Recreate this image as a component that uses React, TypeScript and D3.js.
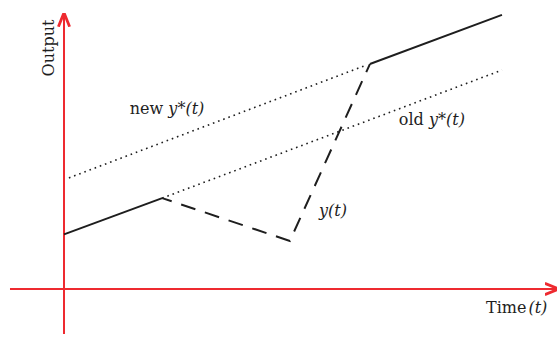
import * as d3 from "d3"

// actual output path: solid, then the dip after the shift (dashed), then solid again
const solidBefore = [[0, 20], [20, 33.3]]
const dip = [[20, 33.3], [46, 17.6], [62.3, 82.4]]
const solidAfter = [[62.3, 82.4], [89.2, 100.4]]

// target paths (dotted)
const newTarget = [[1, 40.7], [61.7, 82.1]]
const oldTarget = [[20, 33.3], [89.2, 80.2]]

// axis extents, in data units
const xExtent = [-11, 100.5]
const yExtent = [-16.5, 100.7]

const labels = [
  { pre: "new ", t: [13.4, 64] },
  { pre: "old ", t: [68.2, 60] },
]

export default function App() {
  const width = 557
  const height = 338
  const red = "#ee2a30"
  const ink = "#1e1e1e"
  const font = "'DejaVu Serif', serif"

  const x = d3.scaleLinear().domain([0, 100]).range([64, 555])
  const y = d3.scaleLinear().domain([0, 100]).range([289, 16])

  const line = d3.line<number[]>()
    .x(d => x(d[0]))
    .y(d => y(d[1]))

  return (
    <svg width={width} height={height} style={{ position: "absolute", left: 0, top: 0 }}>
      <defs>
        <marker id="arr" viewBox="0 0 10 10" refX="9" refY="5" markerWidth="7" markerHeight="7" orient="auto">
          <path d="M0,1 L10,5 L0,9" fill="none" stroke={red} strokeWidth={2} />
        </marker>
      </defs>

      {/* axes */}
      <line x1={x(xExtent[0])} x2={x(xExtent[1])} y1={y(0)} y2={y(0)} stroke={red} strokeWidth={2} markerEnd="url(#arr)" />
      <line x1={x(0)} x2={x(0)} y1={y(yExtent[0])} y2={y(yExtent[1])} stroke={red} strokeWidth={2} markerEnd="url(#arr)" />

      {/* targets */}
      <path d={line(newTarget)!} fill="none" stroke={ink} strokeWidth={1.6} strokeDasharray="1.6 3.9" />
      <path d={line(oldTarget)!} fill="none" stroke={ink} strokeWidth={1.6} strokeDasharray="1.6 3.9" />

      {/* output */}
      <path d={line(solidBefore)!} fill="none" stroke={ink} strokeWidth={2} />
      <path d={line(dip)!} fill="none" stroke={ink} strokeWidth={2} strokeDasharray="15 10" strokeDashoffset={5} />
      <path d={line(solidAfter)!} fill="none" stroke={ink} strokeWidth={2} />

      {/* labels */}
      <g fontFamily={font} fontSize={16} fill={ink}>
        <text transform="translate(54,48) rotate(-90)" textAnchor="middle">Output</text>
        {labels.map(l => (
          <text key={l.pre} x={x(l.t[0])} y={y(l.t[1])}>
            {l.pre}<tspan fontStyle="italic">y</tspan>*<tspan fontStyle="italic">(t)</tspan>
          </text>
        ))}
        <text x={319} y={216} fontStyle="italic">y(t)</text>
        <text x={486} y={313}>Time<tspan fontStyle="italic" dx={2}>(t)</tspan></text>
      </g>
    </svg>
  )
}
